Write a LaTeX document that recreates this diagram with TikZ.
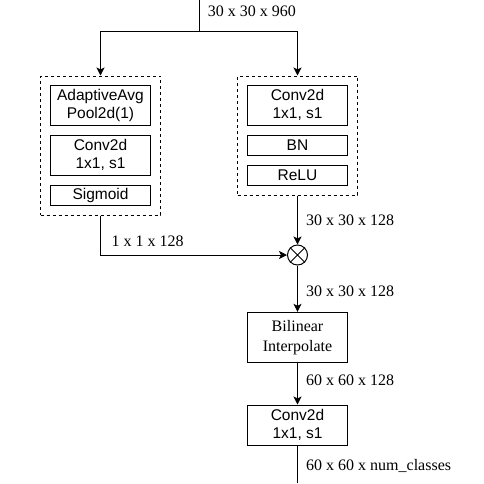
\documentclass[tikz,border=0pt]{standalone}
\usepackage{fontspec}
\setmainfont{Liberation Serif}
\newfontfamily\boxfont{Liberation Sans}
\usetikzlibrary{arrows.meta}
\begin{document}
\begin{tikzpicture}[x=1pt,y=-1pt,line width=1pt,
  blk/.style={draw,minimum width=100pt,minimum height=40pt,inner sep=0pt,align=center,font=\boxfont\fontsize{15.5}{18}\selectfont},
  thin blk/.style={blk,minimum height=20pt},
  serifblk/.style={blk,font=\fontsize{16}{20}\selectfont},
  group/.style={draw,dash pattern=on 3pt off 3pt,minimum width=120pt,inner sep=0pt},
  lbl/.style={anchor=west,inner sep=0pt,font=\fontsize{16}{18}\selectfont},
  arr/.style={-{Stealth[length=8pt,width=8pt,inset=2pt]}}]
\useasboundingbox (0,0) rectangle (484,483);
% groups
\node[group,minimum height=139pt] (ld) at (100.5,145.5) {};
\node[group,minimum height=119pt] (rd) at (297.5,135.5) {};
% left branch
\node[blk] (a1) at (100.5,105.3) {AdaptiveAvg\\Pool2d(1)};
\node[blk] (a2) at (100.5,155.3) {Conv2d\\1x1, s1};
\node[thin blk] (a3) at (100.5,195.3) {Sigmoid};
% right branch
\node[blk] (b1) at (297.5,105.3) {Conv2d\\1x1, s1};
\node[thin blk] (b2) at (297.5,145.3) {BN};
\node[thin blk] (b3) at (297.5,175.3) {ReLU};
% multiply
\node[draw,circle,minimum size=20pt,inner sep=0pt] (mul) at (297.5,255) {};
\draw (mul.45) -- (mul.225) (mul.135) -- (mul.-45);
% tail
\node[serifblk,minimum height=50pt] (bil) at (297.5,337.3) {Bilinear\\Interpolate};
\node[blk] (c1) at (297.5,425) {Conv2d\\1x1, s1};
% coordinates
\coordinate (top) at (199.5,0);
\coordinate (split) at (199.5,31);
\coordinate (bottom) at (297.5,483);
% connectors
\draw (top) -- (split);
\draw[arr] (split) -| (ld.north);
\draw[arr] (split) -| (rd.north);
\draw[arr] (ld.south) |- (mul.west);
\draw[arr] (rd.south) -- (mul.north);
\draw[arr] (mul.south) -- (bil.north);
\draw[arr] (bil.south) -- (c1.north);
\draw (c1.south) -- (bottom);
% labels
\node[lbl] (t0) at (207.3,11) {30 x 30 x 960};
\node[lbl] (t1) at (305.7,220) {30 x 30 x 128};
\node[lbl] (t2) at (111,241) {1 x 1 x 128};
\node[lbl] (t3) at (305.7,291) {30 x 30 x 128};
\node[lbl] (t4) at (305.7,380.7) {60 x 60 x 128};
\node[lbl] (t5) at (305.7,465.7) {60 x 60 x num\_classes};
\end{tikzpicture}
\end{document}
